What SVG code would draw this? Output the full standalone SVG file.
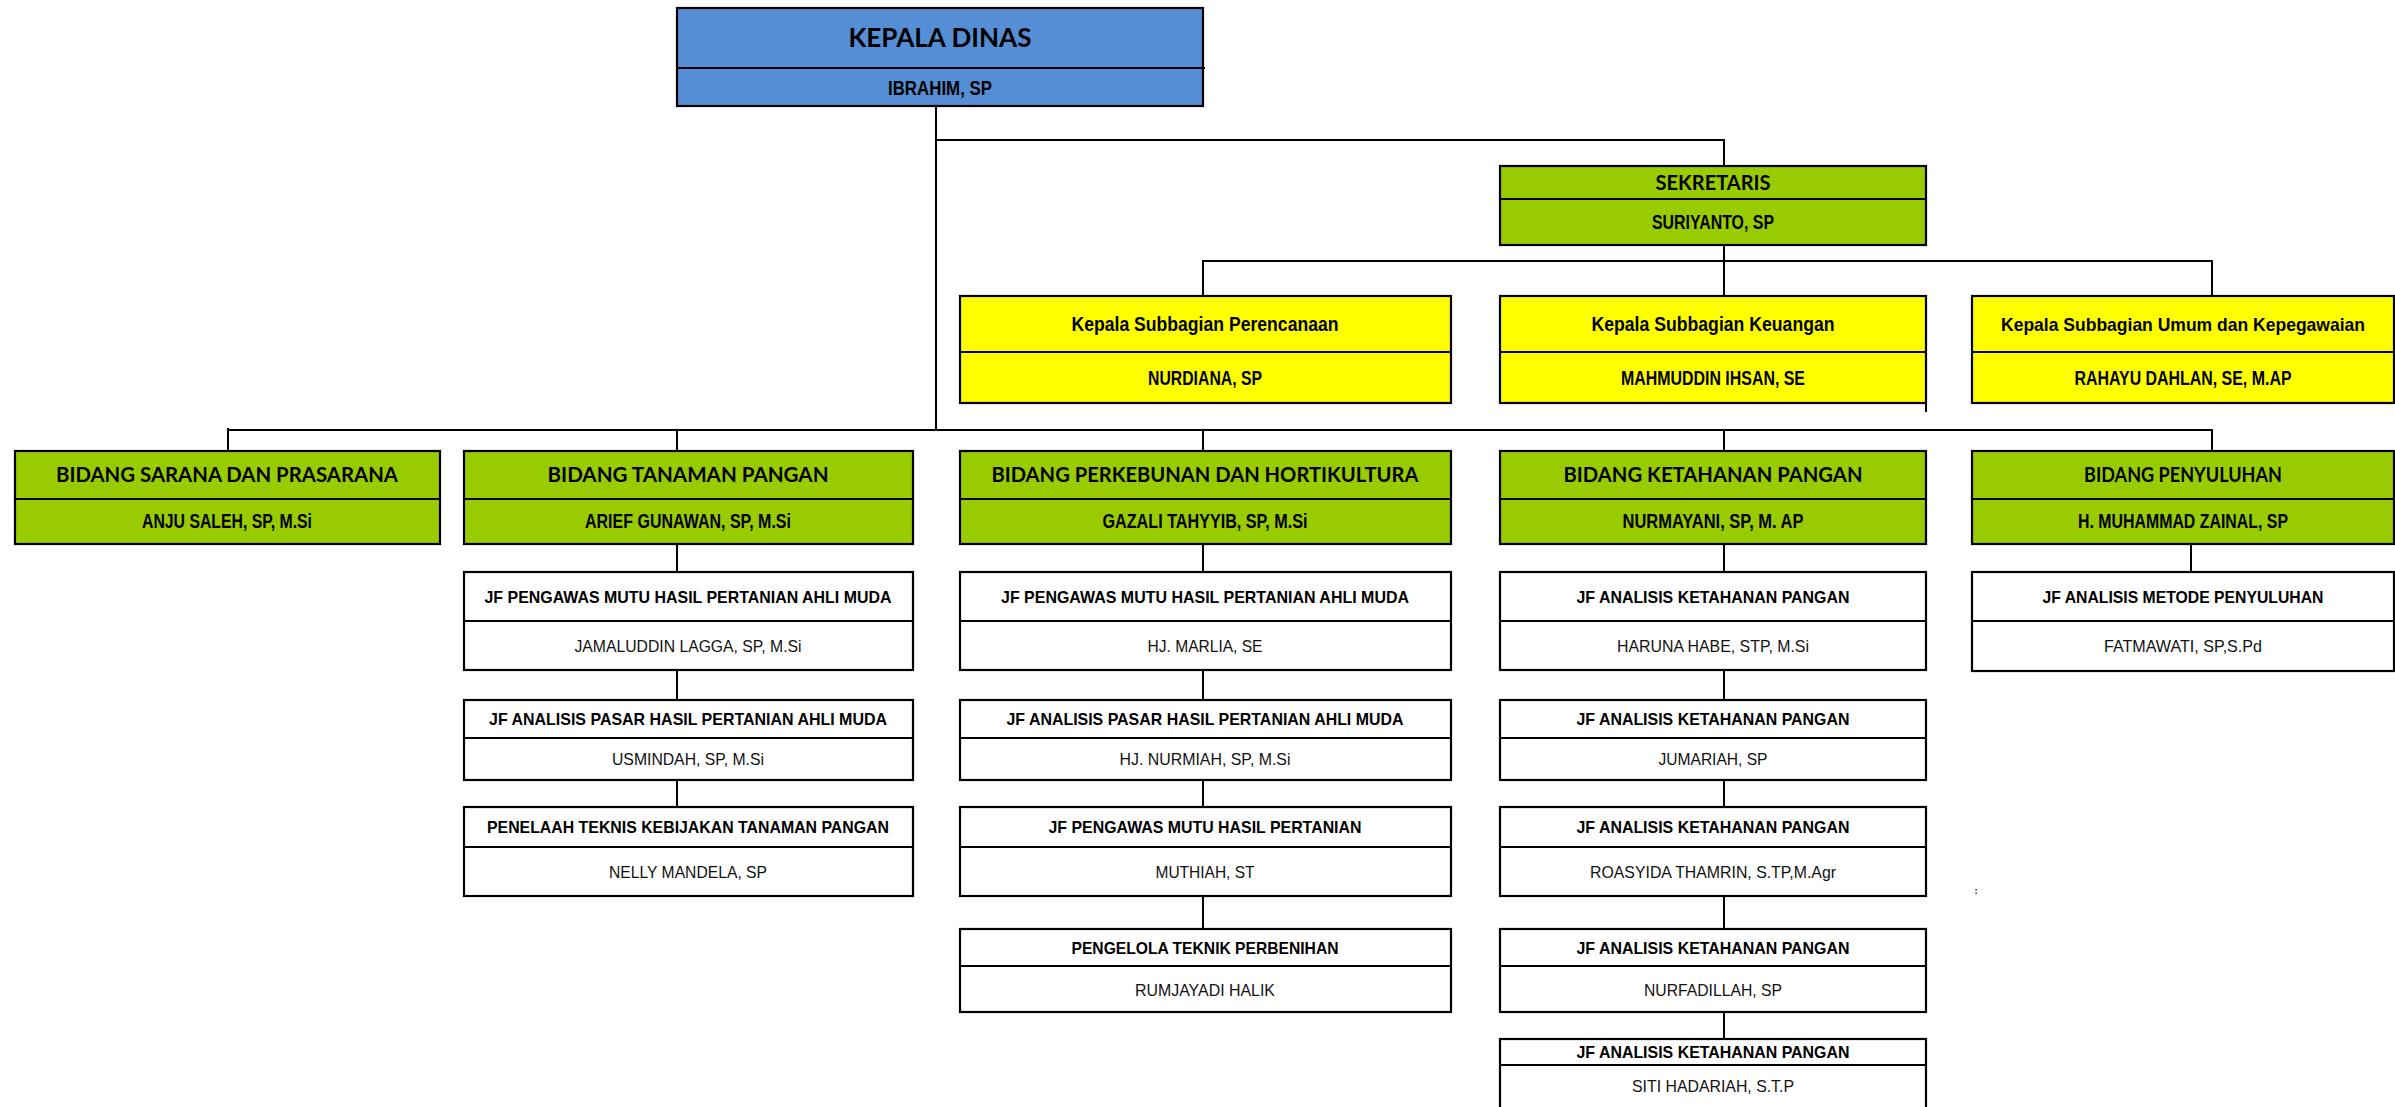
<svg xmlns="http://www.w3.org/2000/svg" width="2395" height="1107" viewBox="0 0 2395 1107">
<style>
.box{stroke:#000;stroke-width:2.2}
.blue{fill:#558ed5}
.green{fill:#99cc00}
.yellow{fill:#ffff00}
.white{fill:#fff}
.div{stroke:#000;stroke-width:2}
.con line{stroke:#000;stroke-width:2}
text{text-anchor:middle;fill:#000}
.cal{font-family:Lato,"Open Sans","Liberation Sans",sans-serif;font-weight:700}
.nb{font-family:"Liberation Sans",Arial,sans-serif;font-weight:700}
.nr{font-family:"Liberation Sans",Arial,sans-serif;font-weight:400;fill:#111}
</style>
<rect width="2395" height="1107" fill="#fff"/>
<g id="connectors" class="con">
<line x1="936" y1="106" x2="936" y2="431"/>
<line x1="935" y1="140" x2="1725" y2="140"/>
<line x1="1724" y1="139" x2="1724" y2="166"/>
<line x1="1724" y1="245" x2="1724" y2="296"/>
<line x1="1202" y1="261" x2="2213" y2="261"/>
<line x1="1203" y1="260" x2="1203" y2="296"/>
<line x1="2212" y1="260" x2="2212" y2="296"/>
<line x1="1926" y1="403" x2="1926" y2="412"/>
<line x1="227" y1="430" x2="2213" y2="430"/>
<line x1="228" y1="428" x2="228" y2="451"/>
<line x1="677" y1="430" x2="677" y2="451"/>
<line x1="1203" y1="430" x2="1203" y2="451"/>
<line x1="1724" y1="430" x2="1724" y2="451"/>
<line x1="2212" y1="429" x2="2212" y2="451"/>
<line x1="677" y1="544" x2="677" y2="572"/>
<line x1="677" y1="670" x2="677" y2="700"/>
<line x1="677" y1="780" x2="677" y2="807"/>
<line x1="1203" y1="544" x2="1203" y2="572"/>
<line x1="1203" y1="670" x2="1203" y2="700"/>
<line x1="1203" y1="780" x2="1203" y2="807"/>
<line x1="1203" y1="896" x2="1203" y2="929"/>
<line x1="1724" y1="544" x2="1724" y2="572"/>
<line x1="1724" y1="670" x2="1724" y2="700"/>
<line x1="1724" y1="780" x2="1724" y2="807"/>
<line x1="1724" y1="896" x2="1724" y2="929"/>
<line x1="1724" y1="1012" x2="1724" y2="1039"/>
<line x1="2191" y1="544" x2="2191" y2="572"/>
</g>
<g id="kepala-dinas">
<rect class="box blue" x="677" y="8" width="526" height="98"/>
<line class="div" x1="677" y1="68" x2="1205" y2="68"/>
<text class="cal" x="940" y="47" font-size="26" textLength="183" lengthAdjust="spacingAndGlyphs">KEPALA DINAS</text>
<text class="nb" x="940" y="95" font-size="21" textLength="104" lengthAdjust="spacingAndGlyphs">IBRAHIM, SP</text>
</g>
<g id="sekretaris">
<rect class="box green" x="1500" y="166" width="426" height="79"/>
<line class="div" x1="1500" y1="199" x2="1926" y2="199"/>
<text class="cal" x="1713" y="190" font-size="21" textLength="115" lengthAdjust="spacingAndGlyphs">SEKRETARIS</text>
<text class="nb" x="1713" y="229" font-size="20" textLength="122" lengthAdjust="spacingAndGlyphs">SURIYANTO, SP</text>
</g>
<g id="subbag-perencanaan">
<rect class="box yellow" x="960" y="296" width="491" height="107"/>
<line class="div" x1="960" y1="352" x2="1451" y2="352"/>
<text class="nb" x="1205" y="331" font-size="20" textLength="267" lengthAdjust="spacingAndGlyphs">Kepala Subbagian Perencanaan</text>
<text class="nb" x="1205" y="385" font-size="20" textLength="114" lengthAdjust="spacingAndGlyphs">NURDIANA, SP</text>
</g>
<g id="subbag-keuangan">
<rect class="box yellow" x="1500" y="296" width="426" height="107"/>
<line class="div" x1="1500" y1="352" x2="1926" y2="352"/>
<text class="nb" x="1713" y="331" font-size="20" textLength="243" lengthAdjust="spacingAndGlyphs">Kepala Subbagian Keuangan</text>
<text class="nb" x="1713" y="385" font-size="20" textLength="184" lengthAdjust="spacingAndGlyphs">MAHMUDDIN IHSAN, SE</text>
</g>
<g id="subbag-umum">
<rect class="box yellow" x="1972" y="296" width="422" height="107"/>
<line class="div" x1="1972" y1="352" x2="2394" y2="352"/>
<text class="nb" x="2183" y="331" font-size="18.5" textLength="364" lengthAdjust="spacingAndGlyphs">Kepala Subbagian Umum dan Kepegawaian</text>
<text class="nb" x="2183" y="385" font-size="20" textLength="217" lengthAdjust="spacingAndGlyphs">RAHAYU DAHLAN, SE, M.AP</text>
</g>
<g id="bidang-sarana">
<rect class="box green" x="15" y="451" width="425" height="93"/>
<line class="div" x1="15" y1="499" x2="440" y2="499"/>
<text class="cal" x="227" y="482" font-size="20" textLength="342" lengthAdjust="spacingAndGlyphs">BIDANG SARANA DAN PRASARANA</text>
<text class="nb" x="227" y="528" font-size="20" textLength="170" lengthAdjust="spacingAndGlyphs">ANJU SALEH, SP, M.Si</text>
</g>
<g id="bidang-tanaman">
<rect class="box green" x="464" y="451" width="449" height="93"/>
<line class="div" x1="464" y1="499" x2="913" y2="499"/>
<text class="cal" x="688" y="482" font-size="20" textLength="281" lengthAdjust="spacingAndGlyphs">BIDANG TANAMAN PANGAN</text>
<text class="nb" x="688" y="528" font-size="20" textLength="206" lengthAdjust="spacingAndGlyphs">ARIEF GUNAWAN, SP, M.Si</text>
</g>
<g id="bidang-perkebunan">
<rect class="box green" x="960" y="451" width="491" height="93"/>
<line class="div" x1="960" y1="499" x2="1451" y2="499"/>
<text class="cal" x="1205" y="482" font-size="20" textLength="427" lengthAdjust="spacingAndGlyphs">BIDANG PERKEBUNAN DAN HORTIKULTURA</text>
<text class="nb" x="1205" y="528" font-size="20" textLength="205" lengthAdjust="spacingAndGlyphs">GAZALI TAHYYIB, SP, M.Si</text>
</g>
<g id="bidang-ketahanan">
<rect class="box green" x="1500" y="451" width="426" height="93"/>
<line class="div" x1="1500" y1="499" x2="1926" y2="499"/>
<text class="cal" x="1713" y="482" font-size="20" textLength="299" lengthAdjust="spacingAndGlyphs">BIDANG KETAHANAN PANGAN</text>
<text class="nb" x="1713" y="528" font-size="20" textLength="181" lengthAdjust="spacingAndGlyphs">NURMAYANI, SP, M. AP</text>
</g>
<g id="bidang-penyuluhan">
<rect class="box green" x="1972" y="451" width="422" height="93"/>
<line class="div" x1="1972" y1="499" x2="2394" y2="499"/>
<text class="cal" x="2183" y="482" font-size="20" textLength="198" lengthAdjust="spacingAndGlyphs">BIDANG PENYULUHAN</text>
<text class="nb" x="2183" y="528" font-size="20" textLength="210" lengthAdjust="spacingAndGlyphs">H. MUHAMMAD ZAINAL, SP</text>
</g>
<g id="tp-1">
<rect class="box white" x="464" y="572" width="449" height="98"/>
<line class="div" x1="464" y1="621" x2="913" y2="621"/>
<text class="nb" x="688" y="602.5" font-size="17" textLength="407" lengthAdjust="spacingAndGlyphs">JF PENGAWAS MUTU HASIL PERTANIAN AHLI MUDA</text>
<text class="nr" x="688" y="651.5" font-size="17" textLength="227" lengthAdjust="spacingAndGlyphs">JAMALUDDIN LAGGA, SP, M.Si</text>
</g>
<g id="tp-2">
<rect class="box white" x="464" y="700" width="449" height="80"/>
<line class="div" x1="464" y1="738" x2="913" y2="738"/>
<text class="nb" x="688" y="725" font-size="17" textLength="398" lengthAdjust="spacingAndGlyphs">JF ANALISIS PASAR HASIL PERTANIAN AHLI MUDA</text>
<text class="nr" x="688" y="765" font-size="17" textLength="152" lengthAdjust="spacingAndGlyphs">USMINDAH, SP, M.Si</text>
</g>
<g id="tp-3">
<rect class="box white" x="464" y="807" width="449" height="89"/>
<line class="div" x1="464" y1="847" x2="913" y2="847"/>
<text class="nb" x="688" y="833" font-size="17" textLength="402" lengthAdjust="spacingAndGlyphs">PENELAAH TEKNIS KEBIJAKAN TANAMAN PANGAN</text>
<text class="nr" x="688" y="877.5" font-size="17" textLength="158" lengthAdjust="spacingAndGlyphs">NELLY MANDELA, SP</text>
</g>
<g id="pk-1">
<rect class="box white" x="960" y="572" width="491" height="98"/>
<line class="div" x1="960" y1="621" x2="1451" y2="621"/>
<text class="nb" x="1205" y="602.5" font-size="17" textLength="408" lengthAdjust="spacingAndGlyphs">JF PENGAWAS MUTU HASIL PERTANIAN AHLI MUDA</text>
<text class="nr" x="1205" y="651.5" font-size="17" textLength="115" lengthAdjust="spacingAndGlyphs">HJ. MARLIA, SE</text>
</g>
<g id="pk-2">
<rect class="box white" x="960" y="700" width="491" height="80"/>
<line class="div" x1="960" y1="738" x2="1451" y2="738"/>
<text class="nb" x="1205" y="725" font-size="17" textLength="397" lengthAdjust="spacingAndGlyphs">JF ANALISIS PASAR HASIL PERTANIAN AHLI MUDA</text>
<text class="nr" x="1205" y="765" font-size="17" textLength="171" lengthAdjust="spacingAndGlyphs">HJ. NURMIAH, SP, M.Si</text>
</g>
<g id="pk-3">
<rect class="box white" x="960" y="807" width="491" height="89"/>
<line class="div" x1="960" y1="847" x2="1451" y2="847"/>
<text class="nb" x="1205" y="833" font-size="17" textLength="313" lengthAdjust="spacingAndGlyphs">JF PENGAWAS MUTU HASIL PERTANIAN</text>
<text class="nr" x="1205" y="877.5" font-size="17" textLength="99" lengthAdjust="spacingAndGlyphs">MUTHIAH, ST</text>
</g>
<g id="pk-4">
<rect class="box white" x="960" y="929" width="491" height="83"/>
<line class="div" x1="960" y1="966" x2="1451" y2="966"/>
<text class="nb" x="1205" y="953.5" font-size="17" textLength="267" lengthAdjust="spacingAndGlyphs">PENGELOLA TEKNIK PERBENIHAN</text>
<text class="nr" x="1205" y="995.5" font-size="17" textLength="140" lengthAdjust="spacingAndGlyphs">RUMJAYADI HALIK</text>
</g>
<g id="kp-1">
<rect class="box white" x="1500" y="572" width="426" height="98"/>
<line class="div" x1="1500" y1="621" x2="1926" y2="621"/>
<text class="nb" x="1713" y="602.5" font-size="17" textLength="273" lengthAdjust="spacingAndGlyphs">JF ANALISIS KETAHANAN PANGAN</text>
<text class="nr" x="1713" y="651.5" font-size="17" textLength="192" lengthAdjust="spacingAndGlyphs">HARUNA HABE, STP, M.Si</text>
</g>
<g id="kp-2">
<rect class="box white" x="1500" y="700" width="426" height="80"/>
<line class="div" x1="1500" y1="738" x2="1926" y2="738"/>
<text class="nb" x="1713" y="725" font-size="17" textLength="273" lengthAdjust="spacingAndGlyphs">JF ANALISIS KETAHANAN PANGAN</text>
<text class="nr" x="1713" y="765" font-size="17" textLength="109" lengthAdjust="spacingAndGlyphs">JUMARIAH, SP</text>
</g>
<g id="kp-3">
<rect class="box white" x="1500" y="807" width="426" height="89"/>
<line class="div" x1="1500" y1="847" x2="1926" y2="847"/>
<text class="nb" x="1713" y="833" font-size="17" textLength="273" lengthAdjust="spacingAndGlyphs">JF ANALISIS KETAHANAN PANGAN</text>
<text class="nr" x="1713" y="877.5" font-size="17" textLength="246" lengthAdjust="spacingAndGlyphs">ROASYIDA THAMRIN, S.TP,M.Agr</text>
</g>
<g id="kp-4">
<rect class="box white" x="1500" y="929" width="426" height="83"/>
<line class="div" x1="1500" y1="966" x2="1926" y2="966"/>
<text class="nb" x="1713" y="953.5" font-size="17" textLength="273" lengthAdjust="spacingAndGlyphs">JF ANALISIS KETAHANAN PANGAN</text>
<text class="nr" x="1713" y="995.5" font-size="17" textLength="138" lengthAdjust="spacingAndGlyphs">NURFADILLAH, SP</text>
</g>
<g id="kp-5">
<rect class="box white" x="1500" y="1039" width="426" height="80"/>
<line class="div" x1="1500" y1="1065" x2="1926" y2="1065"/>
<text class="nb" x="1713" y="1057.5" font-size="17" textLength="273" lengthAdjust="spacingAndGlyphs">JF ANALISIS KETAHANAN PANGAN</text>
<text class="nr" x="1713" y="1092" font-size="17" textLength="162" lengthAdjust="spacingAndGlyphs">SITI HADARIAH, S.T.P</text>
</g>
<g id="py-1">
<rect class="box white" x="1972" y="572" width="422" height="99"/>
<line class="div" x1="1972" y1="621" x2="2394" y2="621"/>
<text class="nb" x="2183" y="602.5" font-size="17" textLength="281" lengthAdjust="spacingAndGlyphs">JF ANALISIS METODE PENYULUHAN</text>
<text class="nr" x="2183" y="651.5" font-size="17" textLength="158" lengthAdjust="spacingAndGlyphs">FATMAWATI, SP,S.Pd</text>
</g>
<g id="speck" fill="#000">
<rect x="1975.5" y="889" width="1.2" height="1.6"/>
<rect x="1975.5" y="892.5" width="1.2" height="1.6"/>
</g>
</svg>
